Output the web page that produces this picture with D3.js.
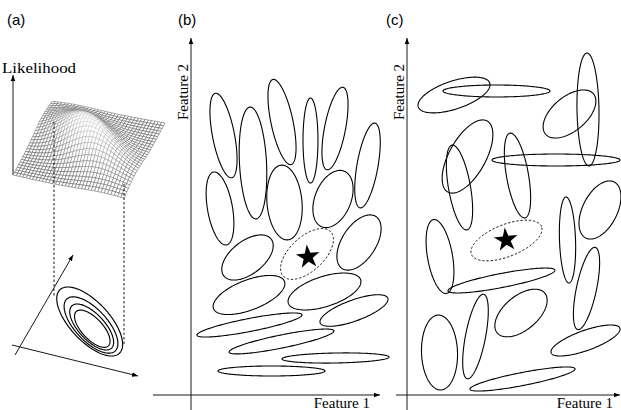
<!DOCTYPE html>
<html><head><meta charset="utf-8">
<script src="https://cdn.jsdelivr.net/npm/d3@7"></script>
<style>html,body{margin:0;padding:0;background:#fff;} svg{display:block;}</style>
</head><body>
<svg id="chart" width="621" height="410"></svg>
<script>
// ---------------- data ----------------
const panelLabels = ["(a)", "(b)", "(c)"];
const likelihoodLabel = "Likelihood";
const featureXLabel = "Feature 1";
const featureYLabel = "Feature 2";

// Panel (b): [centre F1, centre F2, semi-major, semi-minor, angle deg] in feature units
const ellipsesB = [
  [9.29, 74.14, 12.29, 3.14, 101],
  [17.71, 66.29, 16.0, 3.86, 93],
  [26.0, 78.0, 12.43, 3.14, 102],
  [34.14, 72.71, 12.14, 2.14, 90],
  [41.14, 76.14, 12.0, 3.0, 79],
  [50.43, 65.57, 12.29, 3.0, 80],
  [8.29, 53.29, 10.57, 3.57, 100],
  [26.71, 55.0, 10.71, 5.0, 95],
  [40.57, 56.0, 8.57, 5.14, 68],
  [48.0, 43.57, 8.86, 4.86, 57],
  [16.14, 39.29, 8.57, 4.71, 38],
  [16.57, 28.57, 10.86, 4.29, 21],
  [38.14, 29.57, 10.86, 4.29, 18],
  [46.57, 24.14, 10.29, 3.0, 20],
  [16.71, 20.0, 15.29, 1.86, 11],
  [25.86, 15.29, 15.29, 1.86, 11.5],
  [41.29, 10.57, 15.29, 1.43, 1],
  [23.0, 6.86, 15.29, 1.43, 0]
];
const queryB = [33.14, 40.29, 9.29, 4.86, 43];
const starB = [33.43, 39.43];

// Panel (c)
const ellipsesC = [
  [13.43, 85.71, 10.77, 4.0, 18.5],
  [25.57, 86.86, 15.29, 1.71, 0],
  [46.43, 80.29, 8.94, 4.91, 40],
  [51.71, 81.57, 16.14, 3.14, 91],
  [42.57, 67.14, 18.29, 1.71, 0],
  [17.29, 68.14, 11.6, 5.23, 61],
  [15.0, 59.29, 12.29, 3.14, 100],
  [31.57, 62.71, 12.29, 3.14, 100],
  [55.14, 52.86, 8.97, 4.94, 63],
  [45.86, 44.29, 12.29, 2.29, 92],
  [9.43, 39.57, 10.71, 3.57, 100],
  [26.99, 32.71, 15.57, 2.0, 11],
  [51.29, 30.43, 12.0, 2.86, 78],
  [32.57, 23.43, 8.86, 4.86, 40],
  [19.57, 16.71, 12.29, 2.86, 79],
  [9.29, 12.14, 10.71, 5.14, 92],
  [51.0, 15.57, 10.43, 2.86, 19.7],
  [33.0, 4.57, 15.29, 1.86, 11]
];
const queryC = [28.43, 44.14, 10.77, 4.57, 21.6];
const starC = [28.29, 44.29];

// Panel (a): likelihood contours on the ground plane [cx, cy, a, b, angle]
const contoursA = [
  [77.7, 23.5, 43.5, 19.6, -47],
  [79.0, 20.0, 35.5, 16.0, -47],
  [79.7, 18.0, 29.0, 13.0, -47],
  [80.3, 16.3, 23.5, 10.5, -47]
];
// Gaussian likelihood surface parameters (unit square parameterisation)
const surfaceCells = [34, 28];
const surfaceMean = [0.5, 0.5];
const surfaceSigma = [0.3, 0.16];
const surfaceAngle = -37.7;
const surfaceHeight = 32;

// ---------------- drawing ----------------
const svg = d3.select("#chart");
const defs = svg.append("defs");
defs.append("marker").attr("id", "arr").attr("viewBox", "0 0 10 10")
  .attr("refX", 10).attr("refY", 5).attr("markerWidth", 6).attr("markerHeight", 6)
  .attr("markerUnits", "userSpaceOnUse").attr("orient", "auto")
  .append("path").attr("d", "M0,1.2L10,5L0,8.8Z").attr("fill", "#000");

function ellipsePts(e, n = 160) {
  const [cx, cy, a, b, ang] = e; const t = ang * Math.PI / 180;
  return d3.range(n).map(i => {
    const s = 2 * Math.PI * i / n, px = a * Math.cos(s), py = b * Math.sin(s);
    return [cx + px * Math.cos(t) - py * Math.sin(t), cy + px * Math.sin(t) + py * Math.cos(t)];
  });
}
function ellipsePath(xs, ys, e) {
  return d3.line().x(d => xs(d[0])).y(d => ys(d[1])).curve(d3.curveLinearClosed)(ellipsePts(e));
}
function arrowLine(g, x1, y1, x2, y2) {
  g.append("line").attr("x1", x1).attr("y1", y1).attr("x2", x2).attr("y2", y2)
    .attr("stroke", "#000").attr("stroke-width", 0.9).attr("marker-end", "url(#arr)");
}

const serif = "'Liberation Serif','Times New Roman',serif";
const sans = "'Liberation Sans',Arial,sans-serif";

// panel labels
[[7, 25], [178, 25], [386, 25]].forEach((p, i) => {
  svg.append("text").attr("x", p[0]).attr("y", p[1]).text(panelLabels[i])
    .attr("font-family", sans).attr("font-size", 15).attr("fill", "#000");
});

function drawPanel(x0, xStartPx, xTipPx, ellipses, query, star, xLabelEnd, yLabelBase) {
  const k = 3.5;
  const xs = d3.scaleLinear().domain([0, (xTipPx - x0) / k]).range([x0, xTipPx]);
  const ys = d3.scaleLinear().domain([0, 102]).range([395, 38]);
  const g = svg.append("g");
  arrowLine(g, xs(0), ys(-15 / k), xs(0), ys(102));
  arrowLine(g, xStartPx, ys(0), xs.range()[1], ys(0));
  g.selectAll("path.ell").data(ellipses).join("path").attr("class", "ell")
    .attr("d", d => ellipsePath(xs, ys, d)).attr("fill", "none")
    .attr("stroke", "#000").attr("stroke-width", 1.1);
  g.append("path").attr("d", ellipsePath(xs, ys, query)).attr("fill", "none")
    .attr("stroke", "#000").attr("stroke-width", 0.9).attr("stroke-dasharray", "2.4,1.8");
  g.append("path").attr("d", d3.symbol(d3.symbolStar, 12.5 * 12.5 / 0.8908)())
    .attr("transform", `translate(${xs(star[0])},${ys(star[1])}) rotate(-6)`).attr("fill", "#000");
  g.append("text").attr("x", xLabelEnd).attr("y", 408).attr("text-anchor", "end")
    .attr("font-family", serif).attr("font-size", 15).text(featureXLabel);
  g.append("text").attr("transform", `translate(${yLabelBase},92) rotate(-90)`)
    .attr("text-anchor", "middle").attr("font-family", serif).attr("font-size", 15).text(featureYLabel);
}
drawPanel(191, 153, 380, ellipsesB, queryB, starB, 370, 188);
drawPanel(407, 396, 620, ellipsesC, queryC, starC, 613, 404);

// ---- panel (a) ----
const ga = svg.append("g");
arrowLine(ga, 13, 175, 13, 75);
ga.append("text").attr("x", 2).attr("y", 72.5).attr("font-family", serif).attr("font-size", 15)
  .attr("textLength", 74).attr("lengthAdjust", "spacingAndGlyphs").text(likelihoodLabel);

// surface
const cornerL = [13, 175], cornerF = [124, 200], cornerR = [165, 123], cornerB = [52, 103];
const zScale = d3.scaleLinear().domain([0, 1]).range([0, surfaceHeight]);
const colScale = d3.scaleLinear().domain([0, 1]).range(["#505050", "#d4d4d4"]);
const ca = Math.cos(surfaceAngle * Math.PI / 180), sa = Math.sin(surfaceAngle * Math.PI / 180);
function zAt(u, v) {
  const du = u - surfaceMean[0], dv = v - surfaceMean[1];
  const p = du * ca + dv * sa, q = -du * sa + dv * ca;
  return Math.exp(-0.5 * (p * p / (surfaceSigma[0] ** 2) + q * q / (surfaceSigma[1] ** 2)));
}
function base(u, v) {
  return [
    (1 - u) * (1 - v) * cornerL[0] + u * (1 - v) * cornerF[0] + u * v * cornerR[0] + (1 - u) * v * cornerB[0],
    (1 - u) * (1 - v) * cornerL[1] + u * (1 - v) * cornerF[1] + u * v * cornerR[1] + (1 - u) * v * cornerB[1]
  ];
}
function proj(u, v) { const b = base(u, v); return [b[0], b[1] - zScale(zAt(u, v))]; }
const [nu, nv] = surfaceCells;
const quads = [];
for (let i = 0; i < nu; i++) for (let j = 0; j < nv; j++) {
  const u0 = i / nu, u1 = (i + 1) / nu, v0 = j / nv, v1 = (j + 1) / nv;
  const pts = [proj(u0, v0), proj(u1, v0), proj(u1, v1), proj(u0, v1)];
  const zc = zAt((u0 + u1) / 2, (v0 + v1) / 2);
  quads.push({ pts, z: zc, depth: base((u0 + u1) / 2, (v0 + v1) / 2)[1] });
}
quads.sort((a, b) => a.depth - b.depth);
ga.append("g").selectAll("path").data(quads).join("path")
  .attr("d", d => "M" + d.pts.map(p => p.join(",")).join("L") + "Z")
  .attr("fill", "#fff").attr("stroke", d => colScale(d.z)).attr("stroke-width", 0.5)
  .attr("stroke-linejoin", "round");

// dashed projection lines
[[54, 122, 297], [124, 184, 345]].forEach(d => {
  ga.append("line").attr("x1", d[0]).attr("x2", d[0]).attr("y1", d[1]).attr("y2", d[2])
    .attr("stroke", "#000").attr("stroke-width", 0.9).attr("stroke-dasharray", "2.5,2");
});

// ground plane
const gx = d3.scaleLinear().domain([0, 100]).range([12, 112]);
const gy = d3.scaleLinear().domain([0, 100]).range([345, 245]);
arrowLine(ga, gx(0), gy(0), gx(126), gy(-31));
arrowLine(ga, gx(3), gy(-10), gx(61), gy(90));
ga.selectAll("path.ct").data(contoursA).join("path").attr("class", "ct")
  .attr("d", d => ellipsePath(gx, gy, d)).attr("fill", "none")
  .attr("stroke", "#000").attr("stroke-width", 1.15);
</script>
</body></html>
